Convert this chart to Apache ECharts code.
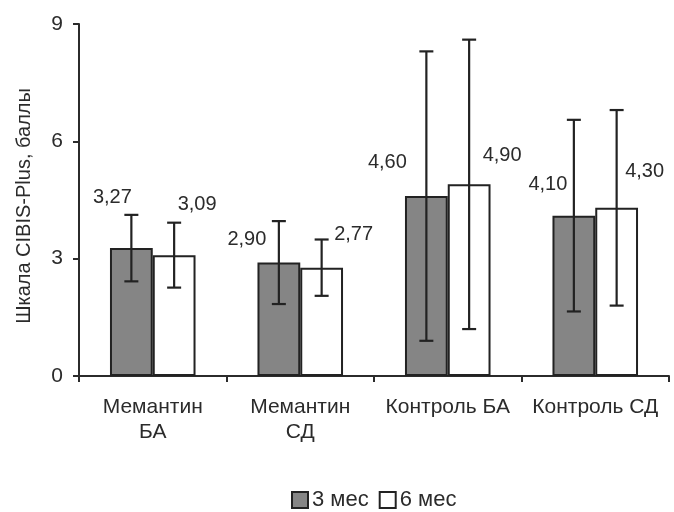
<!DOCTYPE html>
<html>
<head>
<meta charset="utf-8">
<script src="https://cdn.jsdelivr.net/npm/echarts@6/dist/echarts.min.js"></script>
<style>
  html, body { margin: 0; padding: 0; background: #fff; }
  #chart { width: 674px; height: 512px; }
</style>
</head>
<body>
<div id="chart"></div>
<script>
// Groups and series values (CIBIS-Plus score, points)
const categories = ['Мемантин\nБА', 'Мемантин\nСД', 'Контроль БА', 'Контроль СД'];
const seriesNames = ['3 мес', '6 мес'];
const means3 = [3.27, 2.90, 4.60, 4.10];
const means6 = [3.09, 2.77, 4.90, 4.30];
const err3 = [0.85, 1.06, 3.70, 2.45];
const err6 = [0.83, 0.72, 3.70, 2.50];
const yTicks = [0, 3, 6, 9];

// Label placement tweaks (pixels, relative to the bar top)
const labelShift3 = [[-19, -41], [-32, -13], [-39, -24], [-26, -21]];
const labelShift6 = [[23, -41], [32, -23], [33, -19], [28, -26]];

const FONT = 'Liberation Sans, Arial, sans-serif';
const TEXT = '#2b2b2b';
const BAR_GAP_PCT = 42;

const chart = echarts.init(document.getElementById('chart'), null, { renderer: 'canvas' });

function fmt(v) { return v.toFixed(2).replace('.', ','); }

function barData(vals, shifts) {
  return vals.map((v, i) => ({
    value: v,
    label: { offset: shifts[i] }
  }));
}

function errorSeries(name, means, errs, side) {
  return {
    name: name + ' err',
    type: 'custom',
    silent: true,
    z: 5,
    data: means.map((m, i) => [i, m - errs[i], m + errs[i]]),
    renderItem(params, api) {
      const cat = api.value(0);
      const lo = api.coord([cat, api.value(1)]);
      const hi = api.coord([cat, api.value(2)]);
      const catW = api.size([1, 0])[0];
      const barW = catW * (1 - BAR_GAP_PCT / 100) / 2;
      const x = lo[0] + side * barW / 2;
      const cap = 7;
      const style = { stroke: '#222', lineWidth: 2.2 };
      return {
        type: 'group',
        children: [
          { type: 'line', shape: { x1: x, y1: hi[1], x2: x, y2: lo[1] }, style },
          { type: 'line', shape: { x1: x - cap, y1: hi[1], x2: x + cap, y2: hi[1] }, style },
          { type: 'line', shape: { x1: x - cap, y1: lo[1], x2: x + cap, y2: lo[1] }, style }
        ]
      };
    }
  };
}

const labelCommon = {
  show: true,
  position: 'top',
  distance: 0,
  fontFamily: FONT,
  fontSize: 20,
  color: TEXT,
  formatter: p => fmt(p.value)
};

chart.setOption({
  animation: false,
  backgroundColor: '#fff',
  textStyle: { fontFamily: FONT },
  grid: { left: 79, right: 5, top: 24, bottom: 136, containLabel: false },
  legend: {
    top: 484,
    left: 286,
    data: seriesNames,
    itemWidth: 16,
    itemHeight: 16,
    itemGap: 10,
    icon: 'rect',
    textStyle: { fontFamily: FONT, fontSize: 22, color: TEXT, padding: [0, 0, 0, -1] }
  },
  xAxis: {
    type: 'category',
    data: categories,
    axisLine: { lineStyle: { color: '#2b2b2b', width: 2 } },
    axisTick: { show: true, interval: 0, length: 6, lineStyle: { color: '#2b2b2b', width: 2 } },
    axisLabel: { interval: 0, fontFamily: FONT, fontSize: 21, color: TEXT, margin: 19, lineHeight: 25 }
  },
  yAxis: {
    type: 'value',
    min: yTicks[0],
    max: yTicks[yTicks.length - 1],
    interval: yTicks[1] - yTicks[0],
    name: 'Шкала CIBIS-Plus, баллы',
    nameLocation: 'middle',
    nameGap: 45,
    nameTextStyle: { fontFamily: FONT, fontSize: 20, color: TEXT, padding: [0, 12, 0, 0] },
    splitLine: { show: false },
    axisLine: { show: true, lineStyle: { color: '#2b2b2b', width: 2 } },
    axisTick: { show: true, length: 6, lineStyle: { color: '#2b2b2b', width: 2 } },
    axisLabel: { fontFamily: FONT, fontSize: 21, color: TEXT, margin: 16 }
  },
  series: [
    {
      name: seriesNames[0],
      type: 'bar',
      barGap: '0%',
      barCategoryGap: BAR_GAP_PCT + '%',
      itemStyle: { color: '#858585', borderColor: '#222', borderWidth: 2 },
      label: labelCommon,
      data: barData(means3, labelShift3)
    },
    {
      name: seriesNames[1],
      type: 'bar',
      barGap: '0%',
      barCategoryGap: BAR_GAP_PCT + '%',
      itemStyle: { color: '#fff', borderColor: '#222', borderWidth: 2 },
      label: labelCommon,
      data: barData(means6, labelShift6)
    },
    errorSeries(seriesNames[0], means3, err3, -1),
    errorSeries(seriesNames[1], means6, err6, 1)
  ]
});
</script>
</body>
</html>
